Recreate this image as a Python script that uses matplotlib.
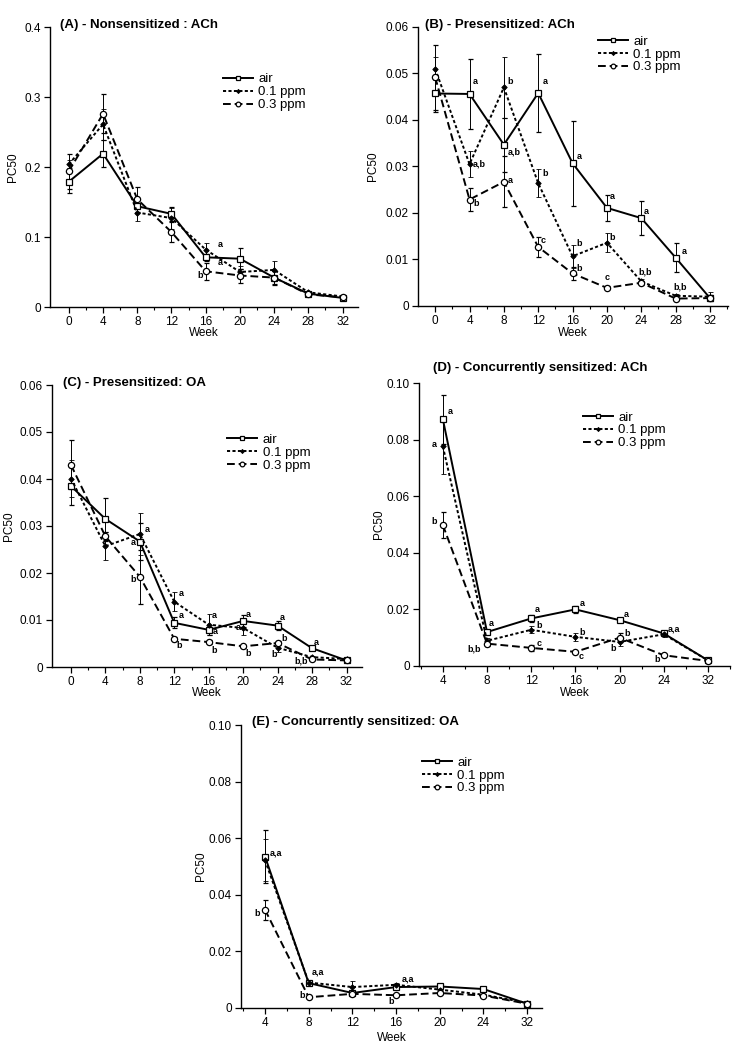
import matplotlib
matplotlib.use("Agg")
import matplotlib.pyplot as plt
from matplotlib.ticker import FixedLocator
from matplotlib.lines import Line2D

plt.rcParams['font.family'] = ['Liberation Sans', 'DejaVu Sans']

# ---------------- data ----------------
weeks_full = [0, 4, 8, 12, 16, 20, 24, 28, 32]
weeks_conc = ['4', '8', '12', '16', '20', '24', '32']
series_names = ['air', '0.1 ppm', '0.3 ppm']

# (A) Nonsensitized : ACh
A_air = [0.179, 0.219, 0.144, 0.133, 0.071, 0.069, 0.042, 0.019, 0.013]
A_air_err = [0.016, 0.019, 0.009, 0.010, 0.005, 0.015, 0.010, 0.002, 0.001]
A_p1 = [0.204, 0.261, 0.135, 0.127, 0.082, 0.050, 0.053, 0.021, 0.015]
A_p1_err = [0.006, 0.022, 0.012, 0.015, 0.009, 0.008, 0.013, 0.002, 0.001]
A_p3 = [0.194, 0.276, 0.154, 0.107, 0.051, 0.045, 0.042, 0.018, 0.014]
A_p3_err = [0.025, 0.028, 0.018, 0.014, 0.012, 0.010, 0.009, 0.002, 0.001]
A_notes = [(17.4, 0.089, 'a'), (17.4, 0.063, 'a'), (15.0, 0.045, 'b')]

# (B) Presensitized: ACh
B_air = [0.0457, 0.0456, 0.0347, 0.0458, 0.0307, 0.0211, 0.0189, 0.0104, 0.0017]
B_air_err = [0.0039, 0.0076, 0.0058, 0.0083, 0.0091, 0.0028, 0.0036, 0.0031, 0.0006]
B_p1 = [0.0510, 0.0305, 0.0470, 0.0264, 0.0107, 0.0136, 0.0053, 0.0022, 0.0020]
B_p1_err = [0.0025, 0.0028, 0.0065, 0.0030, 0.0025, 0.0020, 0.0005, 0.0004, 0.0010]
B_p3 = [0.0492, 0.0229, 0.0267, 0.0127, 0.0070, 0.0039, 0.0050, 0.0016, 0.0017]
B_p3_err = [0.0070, 0.0025, 0.0055, 0.0022, 0.0014, 0.0003, 0.0004, 0.0003, 0.0003]
B_notes = [(4.4, 0.0482, 'a'), (4.4, 0.0306, 'a,b'), (4.4, 0.0221, 'b'),
           (8.4, 0.0482, 'b'), (8.4, 0.0331, 'a,b'), (8.4, 0.0270, 'a'),
           (12.5, 0.0482, 'a'), (12.5, 0.0285, 'b'), (12.3, 0.0141, 'c'),
           (16.5, 0.0322, 'a'), (16.5, 0.0134, 'b'), (16.5, 0.0080, 'b'),
           (20.3, 0.0236, 'a'), (20.3, 0.0148, 'b'), (19.7, 0.0062, 'c'),
           (24.3, 0.0204, 'a'), (23.7, 0.0073, 'b,b'),
           (28.7, 0.0118, 'a'), (27.7, 0.0041, 'b,b')]

# (C) Presensitized: OA
C_air = [0.0385, 0.0315, 0.0267, 0.0094, 0.0079, 0.0098, 0.0088, 0.0040, 0.0014]
C_air_err = [0.0040, 0.0044, 0.0040, 0.0012, 0.0010, 0.0012, 0.0010, 0.0003, 0.0002]
C_p1 = [0.0401, 0.0257, 0.0283, 0.0139, 0.0090, 0.0083, 0.0041, 0.0021, 0.0017]
C_p1_err = [0.0040, 0.0030, 0.0045, 0.0020, 0.0022, 0.0015, 0.0010, 0.0003, 0.0002]
C_p3 = [0.0430, 0.0278, 0.0192, 0.0060, 0.0053, 0.0044, 0.0051, 0.0016, 0.0014]
C_p3_err = [0.0052, 0.0010, 0.0058, 0.0004, 0.0004, 0.0003, 0.0005, 0.0002, 0.0002]
C_notes = [(8.6, 0.0292, 'a'), (6.9, 0.0264, 'a'), (6.9, 0.0187, 'b'),
           (12.5, 0.0157, 'a'), (12.5, 0.0109, 'a'), (12.3, 0.0045, 'b'),
           (16.4, 0.0109, 'a'), (16.5, 0.0076, 'a'), (16.3, 0.0035, 'b'),
           (20.3, 0.0111, 'a'), (19.1, 0.0083, 'a'), (20.3, 0.0028, 'b'),
           (24.2, 0.0106, 'a'), (24.4, 0.0060, 'b'), (23.3, 0.0026, 'b'),
           (28.2, 0.0052, 'a'), (25.9, 0.0012, 'b,b')]

# (D) Concurrently sensitized: ACh
D_air = [0.0872, 0.0120, 0.0168, 0.0200, 0.0162, 0.0115, 0.0020]
D_air_err = [0.0087, 0.0008, 0.0012, 0.0012, 0.0005, 0.0010, 0.0003]
D_p1 = [0.0776, 0.0089, 0.0128, 0.0103, 0.0085, 0.0112, 0.0020]
D_p1_err = [0.0098, 0.0010, 0.0012, 0.0013, 0.0015, 0.0008, 0.0003]
D_p3 = [0.0498, 0.0079, 0.0064, 0.0050, 0.0100, 0.0038, 0.0018]
D_p3_err = [0.0045, 0.0008, 0.0010, 0.0004, 0.0016, 0.0003, 0.0002]
D_notes = [(0.1, 0.0900, 'a'), (-0.26, 0.0782, 'a'), (-0.26, 0.0512, 'b'),
           (1.05, 0.0150, 'a'), (0.55, 0.0061, 'b,b'),
           (2.07, 0.0200, 'a'), (2.12, 0.0144, 'b'), (2.12, 0.0081, 'c'),
           (3.10, 0.0221, 'a'), (3.10, 0.0120, 'b'), (3.08, 0.0034, 'c'),
           (4.10, 0.0183, 'a'), (4.10, 0.0115, 'b'), (3.80, 0.0061, 'b'),
           (5.10, 0.0129, 'a,a'), (4.78, 0.0022, 'b')]

# (E) Concurrently sensitized: OA
E_air = [0.0535, 0.0088, 0.0053, 0.0074, 0.0076, 0.0067, 0.0015]
E_air_err = [0.0095, 0.0005, 0.0005, 0.0005, 0.0004, 0.0004, 0.0002]
E_p1 = [0.0522, 0.0090, 0.0074, 0.0082, 0.0065, 0.0047, 0.0018]
E_p1_err = [0.0074, 0.0005, 0.0020, 0.0008, 0.0005, 0.0004, 0.0002]
E_p3 = [0.0347, 0.0038, 0.0050, 0.0045, 0.0053, 0.0044, 0.0015]
E_p3_err = [0.0035, 0.0004, 0.0004, 0.0003, 0.0003, 0.0003, 0.0002]
E_notes = [(0.1, 0.0549, 'a,a'), (-0.24, 0.0335, 'b'),
           (1.07, 0.0126, 'a,a'), (0.78, 0.0044, 'b'),
           (3.13, 0.0102, 'a,a'), (2.82, 0.0024, 'b')]

# ---------------- styles ----------------
styles = [
    dict(ls='-', marker='s', mfc='white', ms=4.8, mew=0.9),
    dict(ls=(0, (1.6, 1.2)), marker='D', mfc='black', ms=2.8, mew=0.6),
    dict(ls=(0, (4.0, 2.0)), marker='o', mfc='white', ms=4.5, mew=0.9),
]

fig = plt.figure(figsize=(7.47, 10.5), dpi=100)

W, H = 747.0, 1050.0
def rect(l, r, t, b):
    return [l / W, 1 - b / H, (r - l) / W, (b - t) / H]

panels = [
    dict(rect=rect(50, 358, 27, 307), x=weeks_full, cat=False,
         ys=[(A_air, A_air_err), (A_p1, A_p1_err), (A_p3, A_p3_err)],
         ylim=0.4, ystep=0.1, yfmt='{:.1f}', xlim=(-2.2, 33.8),
         title='(A) - Nonsensitized : ACh', tpos=(0.032, 1.007), tha='left',
         leg=(0.562, 0.835), ylab=-0.10, xlab=-0.071, notes=A_notes),
    dict(rect=rect(418, 728, 27, 306), x=weeks_full, cat=False,
         ys=[(B_air, B_air_err), (B_p1, B_p1_err), (B_p3, B_p3_err)],
         ylim=0.06, ystep=0.01, yfmt='{:.2f}', xlim=(-2.0, 34.1),
         title='(B) - Presensitized: ACh', tpos=(0.023, 1.007), tha='left',
         leg=(0.581, 0.97), ylab=-0.126, xlab=-0.075, notes=B_notes),
    dict(rect=rect(52, 362, 385, 667), x=weeks_full, cat=False,
         ys=[(C_air, C_air_err), (C_p1, C_p1_err), (C_p3, C_p3_err)],
         ylim=0.06, ystep=0.01, yfmt='{:.2f}', xlim=(-2.2, 33.8),
         title='(C) - Presensitized: OA', tpos=(0.035, 1.007), tha='left',
         leg=(0.565, 0.828), ylab=-0.119, xlab=-0.071, notes=C_notes),
    dict(rect=rect(419, 730, 383, 666), x=weeks_conc, cat=True,
         ys=[(D_air, D_air_err), (D_p1, D_p1_err), (D_p3, D_p3_err)],
         ylim=0.10, ystep=0.02, yfmt='{:.2f}', xlim=(-0.54, 6.5),
         title='(D) - Concurrently sensitized: ACh', tpos=(0.39, 1.053), tha='center',
         leg=(0.527, 0.9), ylab=-0.109, xlab=-0.074, notes=D_notes),
    dict(rect=rect(241, 542, 725, 1008), x=weeks_conc, cat=True,
         ys=[(E_air, E_air_err), (E_p1, E_p1_err), (E_p3, E_p3_err)],
         ylim=0.10, ystep=0.02, yfmt='{:.2f}', xlim=(-0.55, 6.34),
         title='(E) - Concurrently sensitized: OA', tpos=(0.037, 1.011), tha='left',
         leg=(0.601, 0.889), ylab=-0.113, xlab=-0.085, notes=E_notes),
]

for p in panels:
    ax = fig.add_axes(p['rect'])
    if p['cat']:
        xs = list(range(len(p['x'])))
    else:
        xs = p['x']
    for (vals, errs), st, name in zip(p['ys'], styles, series_names):
        ax.errorbar(xs, vals, yerr=errs, color='black', lw=1.4,
                    linestyle=st['ls'], marker=st['marker'], mfc=st['mfc'],
                    mec='black', ms=st['ms'], mew=st['mew'],
                    elinewidth=0.7, capsize=1.8, capthick=0.7, label=name)
    ax.set_xlim(*p['xlim'])
    ax.set_ylim(0, p['ylim'])
    if p['cat']:
        ax.xaxis.set_major_locator(FixedLocator(xs))
        ax.set_xticklabels(p['x'])
        ax.xaxis.set_minor_locator(FixedLocator([i + 0.5 for i in range(-1, len(xs))]))
    else:
        ax.xaxis.set_major_locator(FixedLocator(p['x']))
        ax.xaxis.set_minor_locator(FixedLocator([w + 2 for w in p['x']]))
    yt = [round(i * p['ystep'], 4) for i in range(int(round(p['ylim'] / p['ystep'])) + 1)]
    ax.set_yticks(yt)
    ax.set_yticklabels(['0'] + [p['yfmt'].format(v) for v in yt[1:]])
    for s in ['top', 'right']:
        ax.spines[s].set_visible(False)
    for s in ['left', 'bottom']:
        ax.spines[s].set_linewidth(1.0)
    ax.tick_params(axis='both', which='major', direction='out', length=4, width=0.9,
                   labelsize=8.5, pad=2.5)
    ax.tick_params(axis='x', which='minor', direction='out', length=2.5, width=0.8)
    ax.set_ylabel('PC50', fontsize=8.5)
    ax.set_xlabel('Week', fontsize=8.5)
    ax.yaxis.set_label_coords(p['ylab'], 0.5)
    ax.xaxis.set_label_coords(0.5, p['xlab'])
    ax.text(p['tpos'][0], p['tpos'][1], p['title'], transform=ax.transAxes,
            ha=p['tha'], va='center', fontsize=9.5, fontweight='bold')
    for (nx, ny, t) in p['notes']:
        ax.text(nx, ny, t, fontsize=6.5, fontweight='bold', ha='left', va='center')
    handles = [Line2D([0], [0], color='black', lw=1.4, linestyle=st['ls'],
                      marker=st['marker'], mfc=st['mfc'], mec='black',
                      ms=st['ms'] * 0.75, mew=st['mew']) for st in styles]
    ax.legend(handles, series_names, loc='upper left', bbox_to_anchor=p['leg'],
              frameon=False, fontsize=9.5, handlelength=2.3, handletextpad=0.38,
              labelspacing=0.05, borderpad=0, borderaxespad=0)

fig.savefig('out.png', dpi=100)
